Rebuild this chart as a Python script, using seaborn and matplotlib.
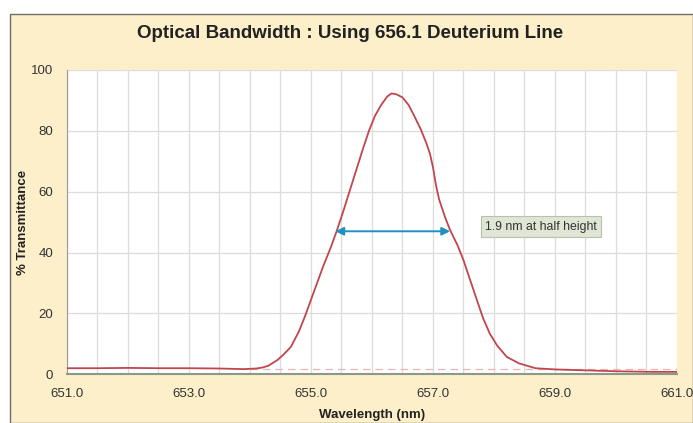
import matplotlib
matplotlib.use("Agg")
import matplotlib.pyplot as plt
from matplotlib.patches import Rectangle
import seaborn as sns
import pandas as pd

# ---- data ----
wavelength = [651.0, 651.5, 652.0, 652.5, 653.0, 653.5, 653.9, 654.1, 654.2, 654.3,
              654.45, 654.55, 654.67, 654.8, 654.9, 655.0, 655.1, 655.2, 655.33, 655.42,
              655.52, 655.63, 655.74, 655.85, 655.95, 656.05, 656.15, 656.25, 656.32,
              656.4, 656.5, 656.6, 656.69, 656.8, 656.89, 656.95, 657.0, 657.05, 657.1,
              657.2, 657.28, 657.4, 657.5, 657.6, 657.72, 657.82, 657.93, 658.05, 658.21,
              658.41, 658.68, 659.0, 659.5, 660.0, 660.6, 661.0]
transmittance = [2.0, 2.0, 2.1, 2.0, 2.0, 1.9, 1.7, 1.9, 2.2, 2.8,
                 4.7, 6.5, 9.0, 14.0, 19.0, 24.5, 30.0, 35.5, 42.0, 47.0,
                 53.0, 60.0, 67.0, 74.0, 80.0, 85.0, 88.5, 91.3, 92.3,
                 92.0, 91.0, 88.5, 85.0, 80.5, 76.0, 72.5, 68.0, 62.0, 57.5,
                 51.5, 47.4, 42.5, 37.5, 31.5, 24.4, 18.5, 13.4, 9.5, 5.7,
                 3.6, 2.0, 1.6, 1.3, 1.0, 0.8, 0.8]
baseline_x = [654.0, 661.0]
baseline_y = [1.8, 1.8]
half_left, half_right, half_y = 655.4, 657.28, 47.0
note_text = "1.9 nm at half height"
note_x, note_y = 658.77, 48.5
title = "Optical Bandwidth : Using 656.1 Deuterium Line"
xticks_labeled = [651.0, 653.0, 655.0, 657.0, 659.0, 661.0]
yticks = [0, 20, 40, 60, 80, 100]

df = pd.DataFrame({"Wavelength (nm)": wavelength, "% Transmittance": transmittance})

sns.set_style("white")
plt.rcParams["font.family"] = ["Liberation Sans", "DejaVu Sans"]

cream = "#FCEFC9"
fig = plt.figure(figsize=(6.93, 4.23), dpi=100)
fig.patch.set_facecolor("white")
W, H = 693, 423
bg = Rectangle((10 / W, 0), 1 - 10 / W, 1 - 14 / H, transform=fig.transFigure,
               facecolor=cream, edgecolor="#6e6e6e", linewidth=1.0, zorder=-10)
fig.patches.append(bg)

ax = fig.add_axes([67 / W, 1 - 374.3 / H, (677 - 67) / W, (374.3 - 70) / H])
ax.set_facecolor("white")

# grid
minor_x = [651.0 + 0.5 * i for i in range(21)]
ax.set_xticks(minor_x)
ax.set_xticklabels([f"{v:.1f}" if v in xticks_labeled else "" for v in minor_x])
ax.set_yticks(yticks)
ax.set_xlim(651.0, 661.0)
ax.set_ylim(0, 100)
ax.grid(True, color="#dcdcdc", linewidth=0.9)
ax.set_axisbelow(True)

ax.plot(baseline_x, baseline_y, color="#eab4b4", linestyle=(0, (6, 4)), linewidth=0.9, zorder=2)
sns.lineplot(data=df, x="Wavelength (nm)", y="% Transmittance", ax=ax,
             color="#c0464e", linewidth=1.3, zorder=3)

ax.annotate("", xy=(half_left, half_y), xytext=(half_right, half_y),
            arrowprops=dict(arrowstyle="<|-|>", color="#1f8fc4", lw=1.4,
                            mutation_scale=12, shrinkA=0, shrinkB=0), zorder=4)
ax.text(note_x, note_y, note_text, ha="center", va="center", fontsize=8.8, color="#333333",
        bbox=dict(boxstyle="square,pad=0.35", facecolor="#dfe6d6", edgecolor="#b8c0b0", linewidth=0.8),
        zorder=5)

for s in ["top", "right"]:
    ax.spines[s].set_visible(False)
ax.spines["left"].set_color("#9a9a9a")
ax.spines["bottom"].set_color("#8a9a8a")
ax.spines["bottom"].set_linewidth(1.5)
ax.tick_params(axis="both", length=4, color="#bbbbbb", labelsize=9.5, labelcolor="#333333")
ax.tick_params(axis="x", pad=6)
ax.tick_params(axis="y", pad=6)

ax.set_xlabel("Wavelength (nm)", fontsize=9.5, fontweight="bold", color="#222222")
ax.set_ylabel("% Transmittance", fontsize=9.5, fontweight="bold", color="#222222")
ax.xaxis.set_label_coords(0.5, -0.115)
ax.yaxis.set_label_coords(-0.062, 0.5)

fig.text(0.505, 1 - 33 / H, title, ha="center", va="center", fontsize=13.5,
         fontweight="bold", color="#222222")

fig.savefig("out.png", dpi=100, facecolor=fig.get_facecolor())
